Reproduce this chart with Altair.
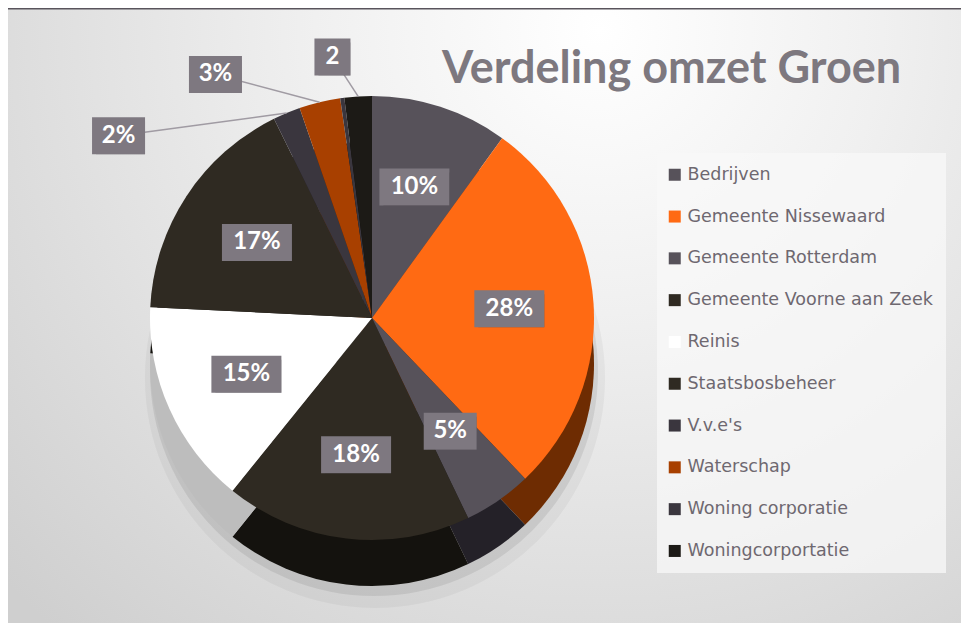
import altair as alt
import pandas as pd

categories = ["Bedrijven", "Gemeente Nissewaard", "Gemeente Rotterdam",
              "Gemeente Voorne aan Zeek", "Reinis", "Staatsbosbeheer",
              "V.v.e's", "Waterschap", "Woning corporatie", "Woningcorportatie"]
values = [10, 28, 5, 18, 15, 17, 2, 3, 0.3, 2]
labels = ["10%", "28%", "5%", "18%", "15%", "17%", "2%", "3%", "", "2"]
colors = ["#57525a", "#ff6a13", "#57525a", "#2f2a22", "#ffffff",
          "#2f2a22", "#3a363e", "#a84000", "#3a363e", "#1c1a16"]
side_colors = ["#3a363d", "#6e2c02", "#242128", "#14120e", "#bdbdbd",
               "#14120e", "#242128", "#5a2200", "#242128", "#0d0c0a"]
title_text = "Verdeling omzet Groen"

W, H = 953, 615
CX, CY, R, DEPTH = 364, 310, 222, 46
FONT = "Lato"

df = pd.DataFrame({"idx": list(range(len(categories))), "category": categories,
                   "value": values, "label": labels, "side": side_colors})
one = pd.DataFrame({"t": [title_text]})

bg = alt.Chart(one).mark_rect(
    fill=alt.Gradient(gradient="radial",
                      stops=[alt.GradientStop(color="#ffffff", offset=0),
                             alt.GradientStop(color="#f0f0f0", offset=0.35),
                             alt.GradientStop(color="#cfcfcf", offset=1)],
                      x1=0.62, y1=0.2, x2=0.62, y2=0.2, r1=0, r2=0.85)
).encode(x=alt.value(0), x2=alt.value(W), y=alt.value(0), y2=alt.value(H))

topbar = alt.Chart(one).mark_rect(fill="#59545c").encode(
    x=alt.value(0), x2=alt.value(W), y=alt.value(0), y2=alt.value(1.5))

shadow1 = alt.Chart(one).mark_arc(radius=R + 8, fill="#000000", opacity=0.04).encode(
    x=alt.value(CX + 3), y=alt.value(CY + DEPTH + 14), theta=alt.value(6.2832))
shadow2 = alt.Chart(one).mark_arc(radius=R + 2, fill="#000000", opacity=0.08).encode(
    x=alt.value(CX + 2), y=alt.value(CY + DEPTH + 8), theta=alt.value(6.2832))

side = alt.Chart(df).mark_arc(radius=R).encode(
    theta=alt.Theta("value:Q", stack=True),
    order=alt.Order("idx:Q"),
    fill=alt.Fill("side:N", scale=None),
    x=alt.value(CX), y=alt.value(CY + DEPTH))

top = alt.Chart(df).mark_arc(radius=R).encode(
    theta=alt.Theta("value:Q", stack=True),
    order=alt.Order("idx:Q"),
    color=alt.Color("category:N",
                    scale=alt.Scale(domain=categories, range=colors),
                    sort=categories,
                    legend=alt.Legend(title=None, orient="none", legendX=649, legendY=145,
                                      symbolType="square", symbolSize=144,
                                      symbolStrokeWidth=0, labelFontSize=17.5,
                                      labelFont="DejaVu Sans", labelColor="#6e6870",
                                      rowPadding=22.8, padding=13, symbolOffset=-4,
                                      fillColor="rgba(248,248,248,0.75)",
                                      labelLimit=400, labelOffset=4)),
    x=alt.value(CX), y=alt.value(CY))

pos = (alt.Chart(df)
       .transform_window(cum="sum(value)", sort=[alt.SortField("idx")], frame=[None, 0])
       .transform_joinaggregate(total="sum(value)")
       .transform_calculate(mid="(datum.cum - datum.value / 2) / datum.total * 2 * PI")
       .transform_calculate(outer="datum.value < 4")
       .transform_calculate(d="2 * PI - datum.mid")
       .transform_calculate(ang="datum.outer ? 2 * PI - datum.d * 2.4 : datum.mid")
       .transform_calculate(lr=f"datum.outer ? 255 + 145 * datum.d : {R * 0.62}")
       .transform_calculate(lx=f"{CX} + datum.lr * sin(datum.ang)")
       .transform_calculate(ly=f"{CY} - datum.lr * cos(datum.ang)")
       .transform_calculate(ex=f"{CX} + {R} * sin(datum.mid)")
       .transform_calculate(ey=f"{CY} - {R} * cos(datum.mid)")
       .transform_calculate(bw="length(datum.label) * 17 + 19")
       .transform_calculate(bx1="datum.lx - datum.bw / 2")
       .transform_calculate(bx2="datum.lx + datum.bw / 2")
       .transform_calculate(by1="datum.ly - 18.5")
       .transform_calculate(by2="datum.ly + 18.5")
       .transform_filter("datum.label != ''"))

lines = pos.transform_filter("datum.outer").mark_rule(color="#a09ba3", strokeWidth=1.5).encode(
    x=alt.X("lx:Q", scale=None, axis=None), y=alt.Y("ly:Q", scale=None, axis=None),
    x2="ex:Q", y2="ey:Q")

box_shadow = pos.mark_rect(fill="#000000", opacity=0.3).encode(
    x=alt.X("bx1:Q", scale=None, axis=None), x2="bx2:Q",
    y=alt.Y("by1:Q", scale=None, axis=None), y2="by2:Q",
    xOffset=alt.value(4), yOffset=alt.value(4))

boxes = pos.mark_rect(fill="#7e7880").encode(
    x=alt.X("bx1:Q", scale=None, axis=None), x2="bx2:Q",
    y=alt.Y("by1:Q", scale=None, axis=None), y2="by2:Q")

texts = pos.mark_text(color="#ffffff", fontSize=24, fontWeight="bold", font=FONT,
                      baseline="middle", align="center").encode(
    x=alt.X("lx:Q", scale=None, axis=None), y=alt.Y("ly:Q", scale=None, axis=None),
    text="label:N")

title = alt.Chart(one).mark_text(align="left", baseline="alphabetic", fontSize=45,
                                 fontWeight="bold", font=FONT, color="#7d787f").encode(
    x=alt.value(434), y=alt.value(75), text="t:N")

chart = alt.layer(bg, topbar, shadow1, shadow2, side, top, lines, box_shadow, boxes,
                  texts, title).properties(
    width=W, height=H, padding=0, autosize=alt.AutoSizeParams(type="none")
).configure_view(stroke=None).resolve_scale(theta="shared")

chart.save("out.html", embed_options={"renderer": "svg", "actions": False})
